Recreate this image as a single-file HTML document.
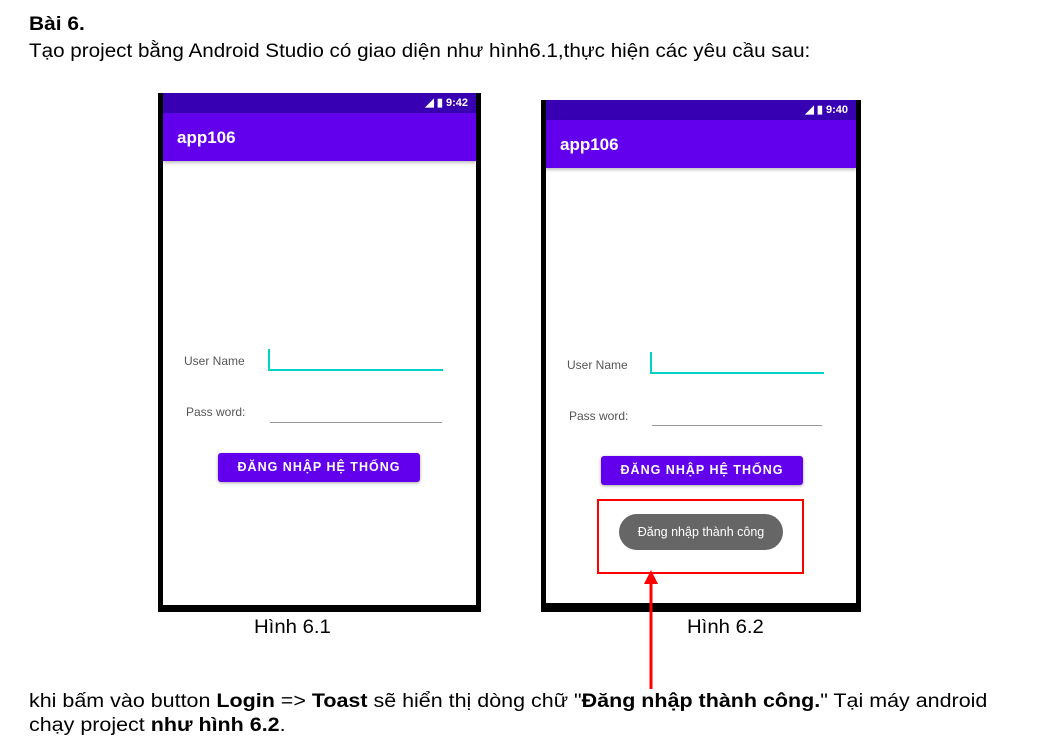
<!DOCTYPE html>
<html><head><meta charset="utf-8"><style>
body{margin:0;width:1046px;height:751px;background:#fff;position:relative;overflow:hidden;font-family:"Liberation Sans",sans-serif;color:#000}
.a{position:absolute}
.t{font-size:19px;white-space:nowrap;transform-origin:0 0}
.ph{position:absolute;background:#000}
.in{position:absolute;background:#fff}
.sb{position:absolute;left:0;right:0;height:20px;background:#3700b3;color:#fff;font-size:11px;font-weight:bold;text-align:right;line-height:20px;padding-right:8px;box-sizing:border-box}
.ab{position:absolute;left:0;right:0;height:48px;background:#6200ee;color:#fff;font-size:17px;font-weight:bold;line-height:50px;padding-left:14px;box-shadow:0 2px 3px rgba(0,0,0,.25)}
.lb{position:absolute;font-size:12px;color:#555}
.btn{position:absolute;width:202px;height:29px;background:#6200ee;color:#fff;font-size:12.5px;font-weight:bold;letter-spacing:1px;text-align:center;line-height:29px;border-radius:3px;box-shadow:0 1px 3px rgba(0,0,0,.35)}
</style></head><body>
<div class="a t" style="left:29px;top:14px;font-weight:bold;transform:scaleX(1.1)">Bài 6.</div>
<div class="a t" style="left:29px;top:41px;transform:scaleX(1.086)">Tạo project bằng Android Studio có giao diện như hình6.1,thực hiện các yêu cầu sau:</div>

<div class="ph" style="left:158px;top:93px;width:323px;height:519px">
 <div class="in" style="left:5px;top:0;width:313px;height:512px">
  <div class="sb" style="top:0">◢ ▮ 9:42</div>
  <div class="ab" style="top:20px">app106</div>
  <div class="lb" style="left:21px;top:261px">User Name</div>
  <div style="position:absolute;left:105px;top:256px;width:2px;height:20px;background:#00d4c8"></div>
  <div style="position:absolute;left:105px;top:276px;width:175px;height:2px;background:#00d4c8"></div>
  <div class="lb" style="left:23px;top:312px">Pass word:</div>
  <div style="position:absolute;left:107px;top:329px;width:172px;height:1px;background:#999"></div>
  <div class="btn" style="left:55px;top:360px">ĐĂNG NHẬP HỆ THỐNG</div>
 </div>
</div>

<div class="ph" style="left:541px;top:100px;width:320px;height:512px">
 <div class="in" style="left:5px;top:0;width:310px;height:503px">
  <div class="sb" style="top:0">◢ ▮ 9:40</div>
  <div class="ab" style="top:20px">app106</div>
  <div class="lb" style="left:21px;top:258px">User Name</div>
  <div style="position:absolute;left:104px;top:252px;width:2px;height:20px;background:#00d4c8"></div>
  <div style="position:absolute;left:104px;top:272px;width:174px;height:2px;background:#00d4c8"></div>
  <div class="lb" style="left:23px;top:309px">Pass word:</div>
  <div style="position:absolute;left:106px;top:325px;width:170px;height:1px;background:#999"></div>
  <div class="btn" style="left:55px;top:356px">ĐĂNG NHẬP HỆ THỐNG</div>
 </div>
</div>
<div class="a" style="left:597px;top:499px;width:203px;height:71px;border:2px solid #f00"></div>
<div class="a" style="left:619px;top:514px;width:164px;height:36px;border-radius:18px;background:#666;color:#fff;font-size:12.5px;text-align:center;line-height:36px">Đăng nhập thành công</div>
<svg class="a" style="left:640px;top:570px" width="22" height="120"><polygon points="11,0 4,14 18,14" fill="#f00"/><rect x="9.5" y="12" width="3" height="107" fill="#f00"/></svg>

<div class="a t" style="left:254px;top:617px;transform:scaleX(1.07)">Hình 6.1</div>
<div class="a t" style="left:687px;top:617px;transform:scaleX(1.07)">Hình 6.2</div>

<div class="a t" style="left:29px;top:691px;transform:scaleX(1.13)">khi bấm vào button <b>Login</b> =&gt; <b>Toast</b> sẽ hiển thị dòng chữ "<b>Đăng nhập thành công.</b>" Tại máy android</div>
<div class="a t" style="left:29px;top:715px;transform:scaleX(1.13)">chạy project <b>như hình 6.2</b>.</div>
</body></html>
